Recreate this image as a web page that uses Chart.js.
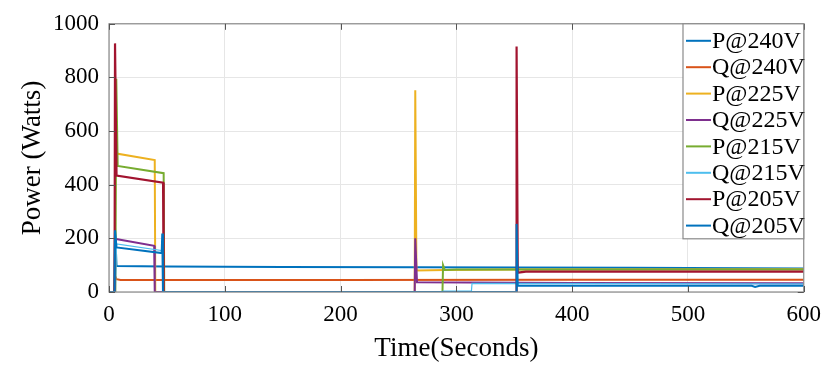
<!DOCTYPE html>
<html>
<head>
<meta charset="utf-8">
<script src="https://cdn.jsdelivr.net/npm/chart.js@4/dist/chart.umd.min.js"></script>
<style>
  html, body { margin: 0; padding: 0; background: #fff; }
  #wrap { width: 830px; height: 365px; position: relative; }
</style>
</head>
<body>
<div id="wrap"><canvas id="c" width="830" height="365"></canvas></div>
<script>
// ---- Data (time in seconds, power in watts) ----
const seriesLabels = ['P@240V', 'Q@240V', 'P@225V', 'Q@225V', 'P@215V', 'Q@215V', 'P@205V', 'Q@205V'];
const xTicks = [0, 100, 200, 300, 400, 500, 600];
const yTicks = [0, 200, 400, 600, 800, 1000];

const p240Time  = [0, 4.5, 5.2, 6.5, 50, 150, 265, 352, 450, 600];
const p240Watts = [0, 0, 240, 97, 95, 93, 92, 91, 90, 88];

const q240Time  = [0, 4.5, 5.2, 6.5, 10, 200, 400, 600];
const q240Watts = [0, 0, 60, 48, 45, 45, 46, 46];

const p225Time  = [0, 5, 5.5, 6.6, 39.5, 40, 264, 264.5, 265.5, 290, 350, 600];
const p225Watts = [0, 0, 540, 516, 492, 0, 0, 752, 80, 82, 84, 85];

const q225Time  = [0, 5, 6, 39, 39.5, 264, 264.5, 266, 400, 600];
const q225Watts = [0, 0, 198, 172, 0, 0, 200, 36, 34, 33];

const p215Time  = [0, 5.5, 6.3, 7.5, 47.2, 47.7, 288, 288.5, 290, 300, 600];
const p215Watts = [0, 0, 795, 470, 443, 0, 0, 100, 82, 84, 84];

const q215Time  = [0, 5.5, 6.5, 46.5, 47, 288, 288.5, 313, 313.5, 600];
const q215Watts = [0, 0, 179, 154, 0, 0, 3, 3, 32, 30];

const p205Time  = [0, 4.8, 5.2, 6.5, 46.7, 47.2, 351.5, 352, 353, 360, 600];
const p205Watts = [0, 0, 927, 434, 408, 0, 0, 915, 72, 76, 76];

const q205Time  = [0, 4.8, 5.2, 6.5, 45.5, 46, 46.6, 351.5, 352, 353, 555, 558, 562, 600];
const q205Watts = [0, 0, 230, 166, 145, 218, 0, 0, 254, 24, 23, 19, 23, 23];

const seriesTimes = [p240Time, q240Time, p225Time, q225Time, p215Time, q215Time, p205Time, q205Time];
const seriesWatts = [p240Watts, q240Watts, p225Watts, q225Watts, p215Watts, q215Watts, p205Watts, q205Watts];

// ---- Styles ----
const colors = ['#0072BD', '#D95319', '#EDB120', '#7E2F8E', '#77AC30', '#4DBEEE', '#A2142F', '#0072BD'];
const widths = [2, 2, 2, 2, 2, 1.2, 2.2, 2];
const FONT = '"Liberation Serif", "Times New Roman", serif';

const datasets = seriesLabels.map((lab, i) => ({
  label: lab,
  data: seriesTimes[i].map((t, k) => ({ x: t, y: seriesWatts[i][k] })),
  borderColor: colors[i],
  backgroundColor: colors[i],
  borderWidth: widths[i],
  pointRadius: 0,
  tension: 0,
  fill: false,
  order: -i
}));

const boxPlugin = {
  id: 'boxPlugin',
  afterDatasetsDraw(chart) {
    const { ctx, chartArea: a, scales } = chart;
    ctx.save();
    ctx.strokeStyle = '#8a8a8a';
    ctx.lineWidth = 1.2;
    ctx.strokeRect(a.left, a.top, a.right - a.left, a.bottom - a.top);
    ctx.strokeStyle = '#555';
    ctx.lineWidth = 1;
    const tl = 6;
    xTicks.forEach(v => {
      const x = Math.round(scales.x.getPixelForValue(v)) + 0.5;
      ctx.beginPath();
      ctx.moveTo(x, a.bottom); ctx.lineTo(x, a.bottom - tl);
      ctx.moveTo(x, a.top); ctx.lineTo(x, a.top + tl);
      ctx.stroke();
    });
    yTicks.forEach(v => {
      const y = Math.round(scales.y.getPixelForValue(v)) + 0.5;
      ctx.beginPath();
      ctx.moveTo(a.left, y); ctx.lineTo(a.left + tl, y);
      ctx.moveTo(a.right, y); ctx.lineTo(a.right - tl, y);
      ctx.stroke();
    });
    // legend box
    const bx = 683, by = a.top, bw = a.right - 683, rowH = 26.4, bh = 215;
    ctx.fillStyle = '#fff';
    ctx.fillRect(bx, by, bw, bh);
    ctx.strokeStyle = '#8a8a8a';
    ctx.lineWidth = 1.2;
    ctx.strokeRect(bx, by, bw, bh);
    ctx.font = '24px ' + FONT;
    ctx.textBaseline = 'middle';
    ctx.textAlign = 'left';
    chart.data.datasets.forEach((ds, i) => {
      const cy = by + 17 + i * rowH;
      ctx.strokeStyle = ds.borderColor;
      ctx.lineWidth = 2;
      ctx.beginPath();
      ctx.moveTo(bx + 3, cy); ctx.lineTo(bx + 28, cy);
      ctx.stroke();
      ctx.fillStyle = '#000';
      ctx.fillText(ds.label, bx + 29, cy + 1);
    });
    ctx.restore();
  }
};

new Chart(document.getElementById('c'), {
  type: 'line',
  data: { datasets },
  options: {
    responsive: false,
    animation: false,
    layout: { padding: { left: 0, right: 24, top: 15, bottom: 0 } },
    plugins: { legend: { display: false }, tooltip: { enabled: false } },
    scales: {
      x: {
        type: 'linear', min: 0, max: 600,
        afterBuildTicks: s => { s.ticks = xTicks.map(v => ({ value: v })); },
        afterFit: s => { s.height = 73; },
        grid: { color: '#e6e6e6', lineWidth: 1, drawTicks: false },
        border: { display: false },
        ticks: { padding: 9, color: '#000', font: { family: FONT, size: 23 }, maxRotation: 0, callback: v => String(v) },
        title: { display: true, text: 'Time(Seconds)', color: '#000', font: { family: FONT, size: 27 }, padding: { top: 0, bottom: 0 } }
      },
      y: {
        type: 'linear', min: 0, max: 1000,
        afterBuildTicks: s => { s.ticks = yTicks.map(v => ({ value: v })); },
        afterFit: s => { s.width = 109; },
        grid: { color: '#e6e6e6', lineWidth: 1, drawTicks: false },
        border: { display: false },
        ticks: { padding: 10, color: '#000', font: { family: FONT, size: 23 }, callback: v => String(v) },
        title: { display: true, text: 'Power (Watts)', color: '#000', font: { family: FONT, size: 27 }, padding: { top: 17, bottom: 0 } }
      }
    }
  },
  plugins: [boxPlugin]
});
</script>
</body>
</html>
